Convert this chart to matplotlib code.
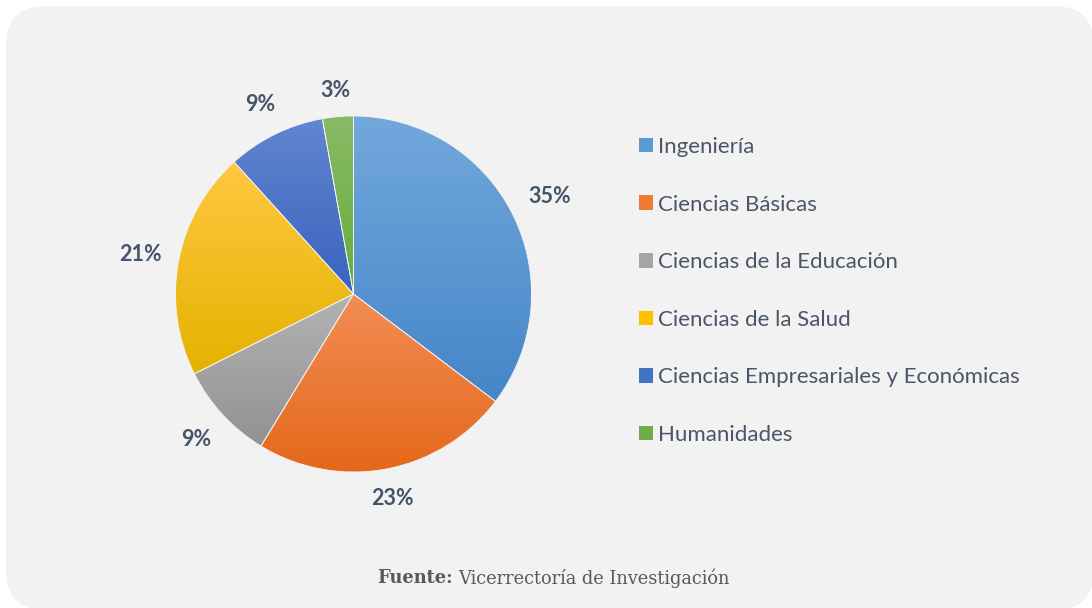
import numpy as np
import matplotlib
matplotlib.use('Agg')
import matplotlib.pyplot as plt
from matplotlib.colors import LinearSegmentedColormap
from matplotlib.patches import FancyBboxPatch, Patch

# Data (shares in %)
categories = ['Ingeniería', 'Ciencias Básicas', 'Ciencias de la Educación',
              'Ciencias de la Salud', 'Ciencias Empresariales y Económicas', 'Humanidades']
shares = [35.3, 23.4, 8.9, 20.7, 8.9, 2.8]

# Gradient colours per slice (top, bottom) and a flat colour for the legend
top_colors = ['#72A8DC', '#F38D55', '#B3B3B3', '#FFC840', '#6285CE', '#88BA66']
bottom_colors = ['#4586C8', '#E4681A', '#929292', '#E4B200', '#3963BF', '#68AC3D']
flat_colors = ['#5B9BD5', '#ED7D31', '#A5A5A5', '#FFC000', '#4472C4', '#70AD47']

W, H = 1092, 608
label_color = '#44546A'
legend_color = '#4A5568'

fig = plt.figure(figsize=(W / 100, H / 100), dpi=100)
fig.patch.set_facecolor('white')
ax = fig.add_axes([0, 0, 1, 1])

# Rounded grey panel
panel = FancyBboxPatch((6, -2), 1088, 604, boxstyle='round,pad=0,rounding_size=40',
                       facecolor='#F2F2F2', edgecolor='none', zorder=-5)
ax.add_patch(panel)

# Pie chart, clockwise from 12 o'clock
cx, cy, r = 353.5, H - 294, 178
wedges, _, pct_texts = ax.pie(shares, startangle=90, counterclock=False,
                              center=(cx, cy), radius=r,
                              autopct='%1.0f%%', pctdistance=1.19,
                              wedgeprops=dict(facecolor='none', edgecolor='#F4F4F4', linewidth=0.6),
                              textprops=dict(fontsize=15.5, fontweight='bold', color=label_color,
                                             family='Lato'))

# Vertical gradient fill clipped to each wedge
grad = np.linspace(0, 1, 256).reshape(-1, 1)
for w, c_top, c_bot in zip(wedges, top_colors, bottom_colors):
    ext = w.get_path().get_extents()
    cmap = LinearSegmentedColormap.from_list('g', [c_bot, c_top])
    im = ax.imshow(grad, extent=[ext.x0, ext.x1, ext.y0, ext.y1], origin='lower',
                   cmap=cmap, aspect='auto', interpolation='bilinear', zorder=0)
    im.set_clip_path(w)
    w.set_zorder(1)

# Legend
handles = [Patch(facecolor=c, edgecolor='none') for c in flat_colors]
leg = ax.legend(handles, categories, loc='upper left', bbox_to_anchor=(639, H - 137),
                bbox_transform=ax.transData, frameon=False,
                prop=dict(family='Lato', size=16),
                handlelength=0.63, handleheight=0.63, handletextpad=0.22,
                labelspacing=1.69, borderpad=0, borderaxespad=0)
for t in leg.get_texts():
    t.set_color(legend_color)

# Source note
ax.text(453, H - 578, 'Fuente:', ha='right', va='center', fontsize=12.8,
        fontweight='bold', family='DejaVu Serif', color='#595959')
ax.text(458, H - 578, 'Vicerrectoría de Investigación', ha='left', va='center',
        fontsize=12.8, family='DejaVu Serif', color='#595959')

ax.set_xlim(0, W)
ax.set_ylim(0, H)
ax.set_aspect('auto')
ax.axis('off')

# Outside-end data labels: keep a gap between the label box and the pie edge
fig.canvas.draw()
renderer = fig.canvas.get_renderer()
gap = 14
for w, t in zip(wedges, pct_texts):
    theta = np.deg2rad((w.theta1 + w.theta2) / 2)
    bb = t.get_window_extent(renderer)
    c, s = abs(np.cos(theta)), abs(np.sin(theta))
    d = r + gap + bb.width / 2 * c + bb.height / 2 * s + 8 * c * s
    t.set_position((cx + d * np.cos(theta), cy + d * np.sin(theta)))

plt.savefig('out.png', dpi=100, facecolor=fig.get_facecolor())
